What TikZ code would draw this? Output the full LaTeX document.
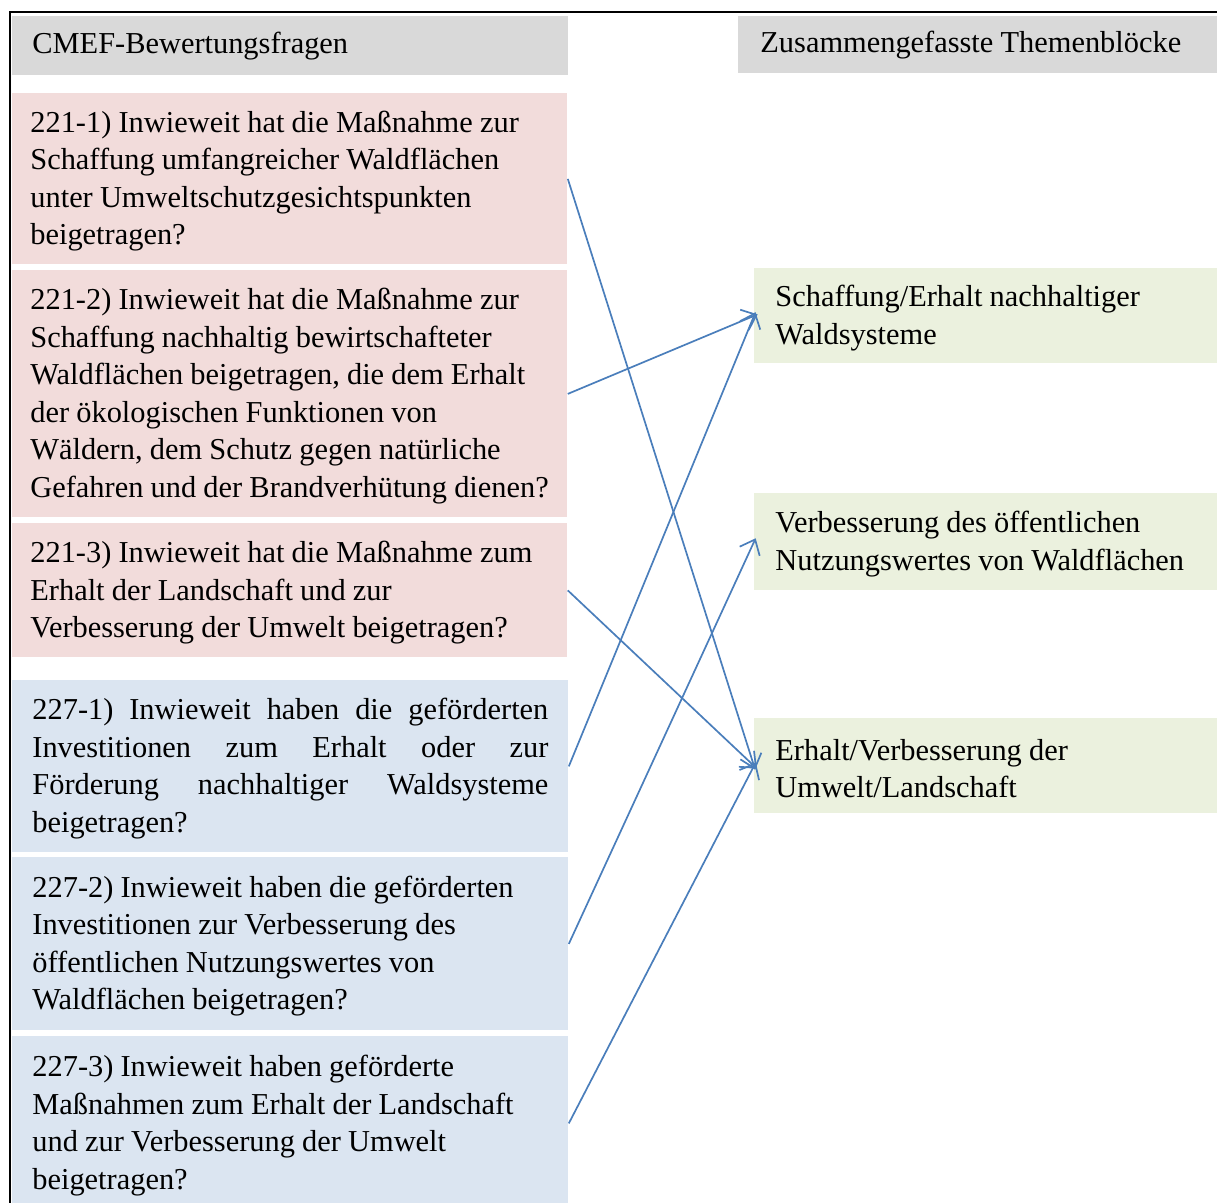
\documentclass[tikz,border=0pt]{standalone}
\usepackage{fontspec}
\setmainfont{Liberation Serif}
\usetikzlibrary{arrows.meta}

\definecolor{grau}{HTML}{D9D9D9}
\definecolor{rosa}{HTML}{F2DCDB}
\definecolor{hellblau}{HTML}{DBE5F1}
\definecolor{hellgruen}{HTML}{EBF1DE}
\definecolor{pfeilblau}{HTML}{4A7EBB}

\begin{document}
\begin{tikzpicture}[x=0.5pt,y=-0.5pt,
  feld/.style={anchor=north west,inner ysep=0pt,font=\fontsize{15.2}{18.75}\selectfont,
    execute at begin node={\spaceskip=3.6pt plus 2pt minus 1pt\hyphenpenalty=10000\strut}},
  kopf/.style={feld,fill=grau,align=left,
    execute at begin node={\spaceskip=3.6pt plus 2pt minus 1pt\rule[-3pt]{0pt}{16pt}}},
  frage/.style={feld,fill=rosa,align=left,minimum width=277.5pt,text width=259.5pt,inner xsep=9pt},
  frageb/.style={feld,fill=hellblau,align=left,minimum width=278pt,text width=258pt,inner xsep=10pt},
  thema/.style={feld,fill=hellgruen,align=left,minimum width=235pt,text width=214pt,inner xsep=10.5pt},
  pfeil/.style={draw=pfeilblau,line width=0.85pt,-{Straight Barb[length=6.5pt,width=11pt]},shorten >=-2pt}]

\useasboundingbox (0,0) rectangle (1217,1203);

%%%%%%%%%%%%%%%%%%%%%%%%
%Rahmen
%%%%%%%%%%%%%%%%%%%%%%%%
\draw[line width=1pt] (10,1215) -- (10,12) -- (1230,12);

%%%%%%%%%%%%%%%%%%%%%%%%
%Kopfzeilen
%%%%%%%%%%%%%%%%%%%%%%%%
\node[kopf,minimum width=278pt,text width=258pt,inner xsep=10pt,minimum height=29.5pt] (kopfL) at (12,16) {CMEF-Bewertungsfragen};
\node[kopf,minimum width=245pt,text width=223pt,inner xsep=11pt,minimum height=28.5pt] (kopfR) at (738,16) {Zusammengefasste Themenblöcke};

%%%%%%%%%%%%%%%%%%%%%%%%
%Bewertungsfragen 221
%%%%%%%%%%%%%%%%%%%%%%%%
\node[frage,minimum height=85.5pt] (f2211) at (12,93) {221-1) Inwieweit hat die Maßnahme zur\\Schaffung umfangreicher Waldflächen\\unter Umweltschutzgesichtspunkten\\beigetragen?};
\node[frage,minimum height=123.5pt] (f2212) at (12,270) {221-2) Inwieweit hat die Maßnahme zur\\Schaffung nachhaltig bewirtschafteter\\Waldflächen beigetragen, die dem Erhalt\\der ökologischen Funktionen von\\Wäldern, dem Schutz gegen natürliche\\Gefahren und der Brandverhütung dienen?};
\node[frage,minimum height=67pt] (f2213) at (12,523) {221-3) Inwieweit hat die Maßnahme zum\\Erhalt der Landschaft und zur\\Verbesserung der Umwelt beigetragen?};

%%%%%%%%%%%%%%%%%%%%%%%%
%Bewertungsfragen 227
%%%%%%%%%%%%%%%%%%%%%%%%
\node[frageb,align=justify,minimum height=86pt] (f2271) at (12,680) {227-1) Inwieweit haben die geförderten\linebreak Investitionen zum Erhalt oder zur\linebreak Förderung nachhaltiger Waldsysteme\linebreak beigetragen?};
\node[frageb,minimum height=86.5pt] (f2272) at (12,857) {227-2) Inwieweit haben die geförderten\\Investitionen zur Verbesserung des\\öffentlichen Nutzungswertes von\\Waldflächen beigetragen?};
\node[frageb,minimum height=87pt] (f2273) at (12,1036) {227-3) Inwieweit haben geförderte\\Maßnahmen zum Erhalt der Landschaft\\und zur Verbesserung der Umwelt\\beigetragen?};

%%%%%%%%%%%%%%%%%%%%%%%%
%Themenblöcke
%%%%%%%%%%%%%%%%%%%%%%%%
\node[thema,minimum height=47.5pt] (t1) at (754,268) {Schaffung/Erhalt nachhaltiger\\Waldsysteme};
\node[thema,minimum height=48.5pt] (t2) at (754,493) {Verbesserung des öffentlichen\\Nutzungswertes von Waldflächen};
\node[thema,minimum height=47.5pt] (t3) at (754,718) {Erhalt/Verbesserung der\\Umwelt/Landschaft};

%%%%%%%%%%%%%%%%%%%%%%%%
%Zuordnung
%%%%%%%%%%%%%%%%%%%%%%%%
\draw[pfeil] (f2211.east) -- (t3.west);
\draw[pfeil] (f2212.east) -- (t1.west);
\draw[pfeil] (f2213.east) -- (t3.west);
\draw[pfeil] (f2271.east) -- (t1.west);
\draw[pfeil] (f2272.east) -- (t2.west);
\draw[pfeil] (f2273.east) -- (t3.west);

\end{tikzpicture}
\end{document}
